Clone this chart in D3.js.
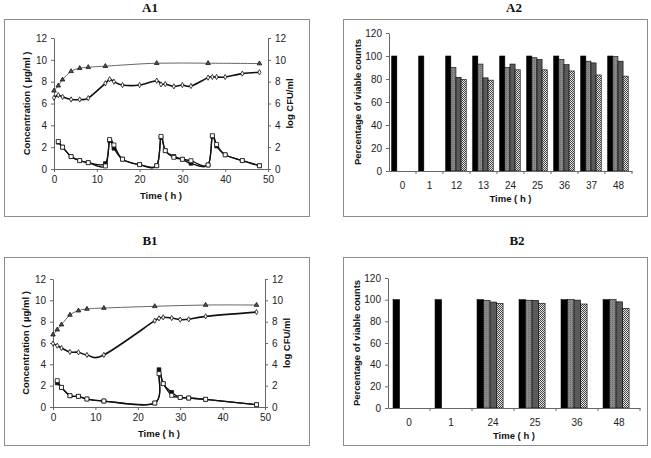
<!DOCTYPE html>
<html>
<head>
<meta charset="utf-8">
<script src="https://cdn.jsdelivr.net/npm/d3@7"></script>
<style>
  body { margin: 0; background: #fff; }
  svg { display: block; }
  .tick text { font-family: "Liberation Sans", Arial, sans-serif; font-size: 10px; fill: #222; }
  .axis path, .axis line { stroke: #666; }
  .atitle { font-family: "Liberation Sans", Arial, sans-serif; font-size: 9.5px; font-weight: bold; fill: #111; }
  .ptitle { font-family: "Liberation Serif", "Times New Roman", serif; font-size: 13px; font-weight: bold; fill: #111; }
</style>
</head>
<body>
<svg id="fig" width="651" height="458"></svg>
<script>
// ---- A1 : concentration / log CFU over time
const a1TimeCtl = [0, 1, 2, 4, 6, 8, 12, 24, 36, 48];
const a1Control = [7.17, 7.63, 8.18, 8.95, 9.23, 9.32, 9.42, 9.69, 9.69, 9.66];
const a1TimeTrt = [0, 1, 2, 4, 6, 8, 12, 13, 14, 16, 20, 24, 25, 26, 28, 30, 32, 36, 37, 38, 40, 44, 48];
const a1Treated = [6.52, 6.77, 6.6, 6.37, 6.37, 6.49, 7.85, 8.22, 8.0, 7.69, 7.69, 8.09, 7.75, 7.78, 7.57, 7.69, 7.6, 8.37, 8.43, 8.43, 8.43, 8.74, 8.86];
const a1TimeConc = [1, 2, 4, 6, 8, 12, 13, 14, 16, 20, 24, 25, 26, 28, 30, 32, 36, 37, 38, 40, 44, 48];
const a1ConcOpen = [2.52, 2.0, 1.14, 0.77, 0.58, 0.28, 2.7, 2.2, 0.9, 0.4, 0.3, 2.98, 1.68, 1.07, 0.89, 0.76, 0.37, 3.05, 2.25, 1.3, 0.77, 0.3];
const a1ConcFill = [2.45, 2.0, 1.14, 0.77, 0.58, 0.5, 2.6, 1.9, 0.9, 0.4, 0.3, 2.9, 1.68, 1.15, 0.89, 0.52, 0.37, 3.0, 2.1, 1.3, 0.77, 0.3];

// ---- B1
const b1TimeCtl = [0, 1, 2, 4, 6, 8, 12, 24, 36, 48];
const b1Control = [6.78, 7.25, 7.72, 8.63, 9.03, 9.19, 9.28, 9.44, 9.56, 9.56];
const b1TimeTrt = [0, 1, 2, 4, 6, 8, 12, 24, 25, 26, 28, 30, 32, 36, 48];
const b1Treated = [5.94, 5.75, 5.53, 5.16, 5.13, 4.88, 4.88, 8.09, 8.31, 8.41, 8.34, 8.19, 8.22, 8.5, 8.9];
const b1TimeConc = [1, 2, 4, 6, 8, 12, 24, 25, 26, 28, 30, 32, 36, 48];
const b1ConcOpen = [2.47, 1.84, 1.06, 1.0, 0.75, 0.56, 0.37, 3.13, 2.19, 1.09, 0.9, 0.84, 0.72, 0.22];
const b1ConcFill = [2.25, 1.84, 1.06, 1.0, 0.75, 0.56, 0.37, 3.5, 2.19, 1.37, 0.9, 0.84, 0.72, 0.22];

// ---- A2 : percentage of viable counts
const a2Cats = ['0', '1', '12', '13', '24', '25', '36', '37', '48'];
const a2S1 = [100, 100, 100, 100, 100, 100, 100, 100, 100];
const a2S2 = [null, null, 90, 93, 90, 98.5, 97, 95.5, 99.5];
const a2S3 = [null, null, 81.5, 81, 93, 97, 92.5, 94, 95.5];
const a2S4 = [null, null, 79.5, 79, 88, 88, 87, 83.5, 82.5];

// ---- B2
const b2Cats = ['0', '1', '24', '25', '36', '48'];
const b2S1 = [100, 100, 100, 100, 100, 100];
const b2S2 = [null, null, 99.4, 99.5, 100, 100];
const b2S3 = [null, null, 97.8, 99.4, 99.6, 98];
const b2S4 = [null, null, 96.5, 96.7, 96, 92];

const yTicks12 = [0, 2, 4, 6, 8, 10, 12];
const xTicks50 = [0, 10, 20, 30, 40, 50];
const yTicks120 = [0, 20, 40, 60, 80, 100, 120];

let svg = d3.select('#fig');

// patterns for the bars
let defs = svg.append('defs');
let p2 = defs.append('pattern').attr('id', 'pat2').attr('width', 2).attr('height', 2).attr('patternUnits', 'userSpaceOnUse');
p2.append('rect').attr('width', 2).attr('height', 2).attr('fill', '#8a8a8a');
p2.append('rect').attr('width', 1).attr('height', 1).attr('fill', '#6e6e6e');
let p4 = defs.append('pattern').attr('id', 'pat4').attr('width', 2).attr('height', 2).attr('patternUnits', 'userSpaceOnUse');
p4.append('rect').attr('width', 2).attr('height', 2).attr('fill', '#e8e8e8');
p4.append('rect').attr('width', 1).attr('height', 1).attr('fill', '#444');
p4.append('rect').attr('x', 1).attr('y', 1).attr('width', 1).attr('height', 1).attr('fill', '#444');
const barFills = ['#000', 'url(#pat2)', '#5a5a5a', 'url(#pat4)'];

function panelBox(x, y, w, h, title, tx, ty) {
    svg.append('rect').attr('x', x + 0.5).attr('y', y + 0.5).attr('width', w).attr('height', h)
        .attr('fill', 'none').attr('stroke', '#8c8c8c');
    svg.append('text').attr('class', 'ptitle').attr('x', tx).attr('y', ty)
        .attr('text-anchor', 'middle').attr('dominant-baseline', 'middle').text(title);
}

function draw_time_panel(cfg) {
    let x = d3.scaleLinear().domain([0, 50]).range([cfg.x0, cfg.x1]);
    let y = d3.scaleLinear().domain([0, 12]).range([cfg.y0, cfg.y1]);

    svg.append('g').attr('class', 'axis').attr('transform', `translate(0,${cfg.y0})`)
        .call(d3.axisBottom(x).tickValues(xTicks50).tickSize(3).tickSizeOuter(0).tickPadding(4));
    svg.append('g').attr('class', 'axis').attr('transform', `translate(${cfg.x0},0)`)
        .call(d3.axisLeft(y).tickValues(yTicks12).tickSize(3).tickSizeOuter(0).tickPadding(4));
    svg.append('g').attr('class', 'axis').attr('transform', `translate(${cfg.x1},0)`)
        .call(d3.axisRight(y).tickValues(yTicks12).tickSize(3).tickSizeOuter(0).tickPadding(4));

    let line = d3.line().x(d => x(d[0])).y(d => y(d[1])).curve(d3.curveCardinal.tension(0));

    function series(times, vals, stroke, sw, sym, size, fill) {
        let pts = times.map((t, i) => [t, vals[i]]);
        svg.append('path').datum(pts).attr('d', line)
            .attr('fill', 'none').attr('stroke', stroke).attr('stroke-width', sw);
        svg.append('g').selectAll('path').data(pts).enter().append('path')
            .attr('transform', d => `translate(${x(d[0])},${y(d[1])})`)
            .attr('d', d3.symbol().type(sym).size(size))
            .attr('fill', fill).attr('stroke', '#111').attr('stroke-width', 0.8);
    }
    series(cfg.tCtl, cfg.ctl, '#666', 1, d3.symbolTriangle, 9, '#555');
    series(cfg.tTrt, cfg.trt, '#111', 1.6, d3.symbolDiamond, 8, '#fff');
    series(cfg.tConc, cfg.concFill, '#111', 1.3, d3.symbolSquare, 14, '#111');
    series(cfg.tConc, cfg.concOpen, '#111', 1.3, d3.symbolSquare, 16, '#fff');

    let midY = (cfg.y0 + cfg.y1) / 2;
    svg.append('text').attr('class', 'atitle').attr('text-anchor', 'middle')
        .attr('transform', `translate(${cfg.x0 - 24},${midY}) rotate(-90)`).text('Concentration ( µg/ml )');
    svg.append('text').attr('class', 'atitle').attr('text-anchor', 'middle')
        .attr('transform', `translate(${cfg.x1 + 25},${midY}) rotate(-90)`).text('log CFU/ml');
    svg.append('text').attr('class', 'atitle').attr('text-anchor', 'middle')
        .attr('x', (cfg.x0 + cfg.x1) / 2).attr('y', cfg.y0 + 30).text('Time ( h )');
}

function draw_bar_panel(cfg) {
    let x = d3.scaleBand().domain(cfg.cats).range([cfg.x0, cfg.x1]);
    let y = d3.scaleLinear().domain([0, 120]).range([cfg.y0, cfg.y1]);
    let xs = d3.scaleBand().domain([0, 1, 2, 3])
        .range([x.bandwidth() * cfg.off, x.bandwidth() * (cfg.off + 4 * cfg.bw)]);

    cfg.series.forEach((vals, s) => {
        svg.append('g').selectAll('rect').data(cfg.cats.map((c, i) => [c, vals[i]]).filter(d => d[1] != null))
            .enter().append('rect')
            .attr('x', d => x(d[0]) + xs(s))
            .attr('y', d => y(d[1]))
            .attr('width', xs.bandwidth())
            .attr('height', d => cfg.y0 - y(d[1]))
            .attr('fill', barFills[s]).attr('stroke', '#000').attr('stroke-width', 0.6);
    });

    svg.append('g').attr('class', 'axis').attr('transform', `translate(${cfg.x0},0)`)
        .call(d3.axisLeft(y).tickValues(yTicks120).tickSize(3).tickSizeOuter(0).tickPadding(4));
    let gx = svg.append('g').attr('class', 'axis').attr('transform', `translate(0,${cfg.y0})`)
        .call(d3.axisBottom(x).tickSize(0).tickPadding(11));
    // category separators as in the original
    gx.selectAll('.sep').data(cfg.cats).enter().append('line')
        .attr('x1', d => x(d) + x.bandwidth()).attr('x2', d => x(d) + x.bandwidth())
        .attr('y1', 0).attr('y2', 3).attr('stroke', '#666');

    svg.append('text').attr('class', 'atitle').attr('text-anchor', 'middle')
        .attr('transform', `translate(${cfg.x0 - 28},${(cfg.y0 + cfg.y1) / 2}) rotate(-90)`)
        .text('Percentage of viable counts');
    svg.append('text').attr('class', 'atitle').attr('text-anchor', 'middle')
        .attr('x', (cfg.x0 + cfg.x1) / 2).attr('y', cfg.y0 + 31).text('Time ( h )');
}

panelBox(4, 19, 305, 197, 'A1', 150, 9);
draw_time_panel({ x0: 54, x1: 268, y0: 169, y1: 38,
    tCtl: a1TimeCtl, ctl: a1Control, tTrt: a1TimeTrt, trt: a1Treated,
    tConc: a1TimeConc, concOpen: a1ConcOpen, concFill: a1ConcFill });

panelBox(343, 19, 304, 197, 'A2', 514, 9);
draw_bar_panel({ x0: 389, x1: 632, y0: 171, y1: 33, cats: a2Cats,
    series: [a2S1, a2S2, a2S3, a2S4], off: 0.1, bw: 0.19 });

panelBox(4, 257, 305, 188, 'B1', 150, 242);
draw_time_panel({ x0: 53, x1: 265, y0: 407, y1: 279,
    tCtl: b1TimeCtl, ctl: b1Control, tTrt: b1TimeTrt, trt: b1Treated,
    tConc: b1TimeConc, concOpen: b1ConcOpen, concFill: b1ConcFill });

panelBox(343, 257, 304, 188, 'B2', 517, 242);
draw_bar_panel({ x0: 388, x1: 640, y0: 408, y1: 278, cats: b2Cats,
    series: [b2S1, b2S2, b2S3, b2S4], off: 0.12, bw: 0.155 });
</script>
</body>
</html>
